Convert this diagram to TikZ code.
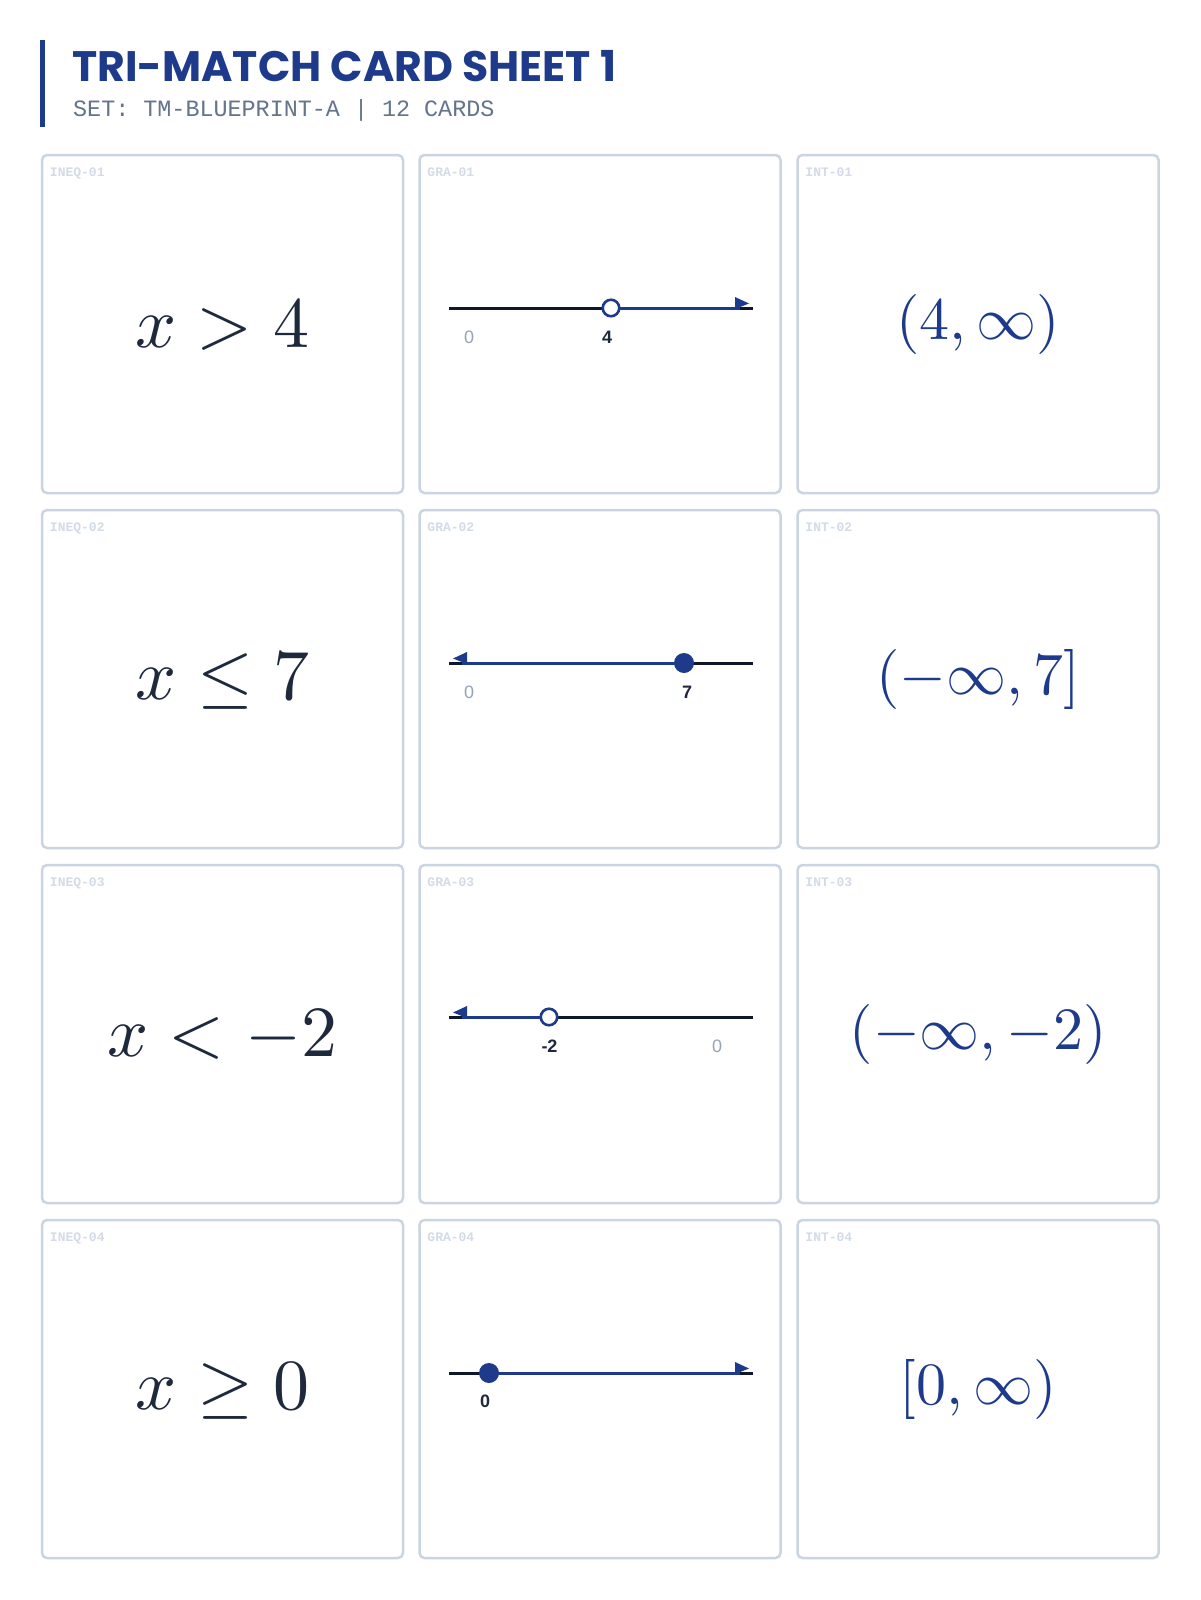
\documentclass[tikz,border=0pt]{standalone}
\usepackage{graphicx}
\usepackage{fontspec}
\newfontfamily\titlefont{Poppins}
\newfontfamily\monofont{Liberation Mono}
\newfontfamily\numfont{Liberation Sans}
\definecolor{navy}{HTML}{1E3A8A}
\definecolor{ink}{HTML}{1E293B}
\definecolor{axis}{HTML}{0F172A}
\definecolor{cardline}{HTML}{CBD5E1}
\definecolor{idgray}{HTML}{D3DBE6}
\definecolor{subgray}{HTML}{64748B}
\definecolor{faint}{HTML}{94A3B8}
\newcommand{\ineqmath}[1]{\scalebox{7.2}{$#1$}}
\newcommand{\intmath}[1]{\scalebox{6.0}{$#1$}}
\tikzset{
  x=1pt, y=-1pt,
  card/.style={draw=cardline, line width=2.5pt, rounded corners=5pt, fill=white,
    minimum width=361pt, minimum height=338pt, inner sep=0pt},
  cardid/.style={anchor=base west, inner sep=0pt, text=idgray, font=\monofont\bfseries\fontsize{13}{13}\selectfont},
  ineq/.style={inner sep=0pt, text=ink},
  interval/.style={inner sep=0pt, text=navy},
  baseaxis/.style={draw=axis, line width=3pt},
  ray/.style={draw=navy, line width=3pt},
  tip/.style={fill=navy},
  opendot/.style={circle, draw=navy, line width=2.6pt, fill=white, minimum size=16.5pt, inner sep=0pt},
  solidot/.style={circle, fill=navy, minimum size=20pt, inner sep=0pt},
  lightnum/.style={inner sep=0pt, text=faint, font=\numfont\fontsize{18}{18}\selectfont},
  boldnum/.style={inner sep=0pt, text=ink, font=\numfont\bfseries\fontsize{18}{18}\selectfont},
}
\begin{document}
\begin{tikzpicture}
\path[use as bounding box, fill=white] (0,0) rectangle (1200,1600);
% header
\draw[navy, line width=5pt] (42,40) coordinate (barA) -- (42,127) coordinate (barB);
\node[anchor=base west, inner sep=0pt, text=navy, font=\titlefont\bfseries\fontsize{42.6}{42.6}\selectfont] (title) at (72,82) {TRI-MATCH CARD SHEET 1};
\node[anchor=base west, inner sep=0pt, text=subgray, font=\monofont\fontsize{23.4}{23.4}\selectfont] (subtitle) at (73,117) {SET: TM-BLUEPRINT-A | 12 CARDS};
% cards
\foreach \r/\ty in {1/324,2/679,3/1034,4/1389}{
  \node[card] (ineq\r) at (222.5,\ty) {};
  \node[card] (gra\r) at (600,\ty) {};
  \node[card] (int\r) at (978,\ty) {};
  \node[cardid] (ineqid\r) at ([xshift=9pt,yshift=-22.5pt]ineq\r.north west) {INEQ-0\r};
  \node[cardid] (graid\r) at ([xshift=9pt,yshift=-22.5pt]gra\r.north west) {GRA-0\r};
  \node[cardid] (intid\r) at ([xshift=9pt,yshift=-22.5pt]int\r.north west) {INT-0\r};
}
% inequalities
\node[ineq] (e1) at ([yshift=-2pt]ineq1) {\ineqmath{x>4}};
\node[ineq] (e2) at ([yshift=-2pt]ineq2) {\ineqmath{x\le 7}};
\node[ineq] (e3) at ([yshift=-2pt]ineq3) {\ineqmath{x<-2}};
\node[ineq] (e4) at ([yshift=-2pt]ineq4) {\ineqmath{x\ge 0}};
% intervals
\node[interval] (i1) at (int1) {\intmath{(4,\infty)}};
\node[interval] (i2) at (int2) {\intmath{(-\infty,7]}};
\node[interval] (i3) at (int3) {\intmath{(-\infty,-2)}};
\node[interval] (i4) at (int4) {\intmath{[0,\infty)}};
% number line 1 : x > 4
\coordinate (a1L) at (449,308); \coordinate (a1R) at (753,308);
\coordinate (p1) at (611,308); \coordinate (r1) at (740,308);
\draw[baseaxis] (a1L) -- (a1R);
\draw[ray] (p1) -- (r1);
\fill[tip] (735,297) -- (749,303.5) -- (735,309) -- cycle;
\node[opendot] (d1) at (p1) {};
\node[lightnum] (z1) at (469,337) {0};
\node[boldnum] (n1) at (607,337) {4};
% number line 2 : x <= 7
\coordinate (a2L) at (449,663); \coordinate (a2R) at (753,663);
\coordinate (p2) at (684,663); \coordinate (r2) at (462,663);
\draw[baseaxis] (a2L) -- (a2R);
\draw[ray] (r2) -- (p2);
\fill[tip] (467,652) -- (453,658.5) -- (467,664) -- cycle;
\node[solidot] (d2) at (p2) {};
\node[lightnum] (z2) at (469,692) {0};
\node[boldnum] (n2) at (687,692) {7};
% number line 3 : x < -2
\coordinate (a3L) at (449,1017); \coordinate (a3R) at (753,1017);
\coordinate (p3) at (549,1017); \coordinate (r3) at (462,1017);
\draw[baseaxis] (a3L) -- (a3R);
\draw[ray] (r3) -- (p3);
\fill[tip] (467,1006) -- (453,1012.5) -- (467,1018) -- cycle;
\node[opendot] (d3) at (p3) {};
\node[boldnum] (n3) at (549.5,1046) {-2};
\node[lightnum] (z3) at (717,1046) {0};
% number line 4 : x >= 0
\coordinate (a4L) at (449,1373); \coordinate (a4R) at (753,1373);
\coordinate (p4) at (489,1373); \coordinate (r4) at (740,1373);
\draw[baseaxis] (a4L) -- (a4R);
\draw[ray] (p4) -- (r4);
\fill[tip] (735,1362) -- (749,1368.5) -- (735,1374) -- cycle;
\node[solidot] (d4) at (p4) {};
\node[boldnum] (n4) at (485,1401) {0};
\end{tikzpicture}
\end{document}
